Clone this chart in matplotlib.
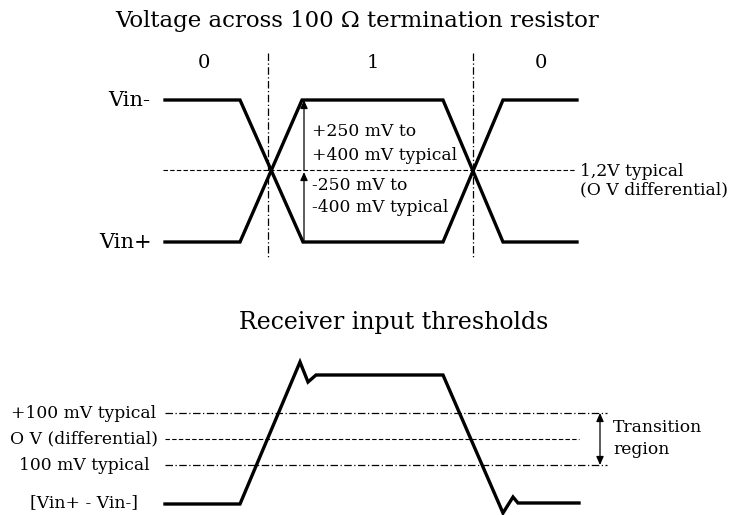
import matplotlib
matplotlib.use('Agg')
import matplotlib.pyplot as plt

# diagram drawn in pixel coordinates of the 733x515 image
W, H = 733, 515

# top: differential pair waveforms
vin_minus_x = [165, 240, 303, 443, 503, 577]
vin_minus_y = [100, 100, 242, 242, 100, 100]
vin_plus_x = [165, 240, 302, 443, 503, 577]
vin_plus_y = [242, 242, 100, 100, 242, 242]
bit_labels = ['0', '1', '0']
bit_x = [204, 373, 541]
bit_edges = [268, 473]
mid_level = 170

# bottom: receiver input
rx_x = [165, 240, 300, 308, 316, 443, 503, 513, 518, 579]
rx_y = [504, 504, 362, 382, 375, 375, 513, 497, 503, 503]
thr_levels = [413, 439, 465]
thr_labels = ['+100 mV typical', 'O V (differential)', '100 mV typical']

plt.rcParams['font.family'] = ['DejaVu Serif']
fig = plt.figure(figsize=(W / 100, H / 100), dpi=100)
ax = fig.add_axes([0, 0, 1, 1])
ax.set_xlim(0, W)
ax.set_ylim(H, 0)
ax.axis('off')

fs = 12.3

# ---- top diagram
ax.text(357, 21, 'Voltage across 100 \u03a9 termination resistor', ha='center', va='center', fontsize=16.5)
for lab, x in zip(bit_labels, bit_x):
    ax.text(x, 63, lab, ha='center', va='center', fontsize=14)
for x in bit_edges:
    ax.plot([x, x], [53, 258], color='black', lw=0.9, ls=(0, (6, 2, 1, 2)))
ax.plot([163, 575], [mid_level, mid_level], color='black', lw=0.8, ls=(0, (4, 2)))
ax.plot(vin_minus_x, vin_minus_y, color='black', lw=2.4, solid_joinstyle='miter')
ax.plot(vin_plus_x, vin_plus_y, color='black', lw=2.4, solid_joinstyle='miter')
ax.text(150, 100, 'Vin-', ha='right', va='center', fontsize=15)
ax.text(152, 242, 'Vin+', ha='right', va='center', fontsize=15)

arr = dict(arrowstyle='-|>,head_length=0.5,head_width=0.22', color='black', lw=0.9, shrinkA=0, shrinkB=0)
ax.annotate('', xy=(304, 100), xytext=(304, 170), arrowprops=arr)
ax.annotate('', xy=(304, 172), xytext=(304, 242), arrowprops=arr)
ax.text(312, 131, '+250 mV to', ha='left', va='center', fontsize=fs)
ax.text(312, 155, '+400 mV typical', ha='left', va='center', fontsize=fs)
ax.text(312, 186, '-250 mV to', ha='left', va='center', fontsize=fs)
ax.text(312, 208, '-400 mV typical', ha='left', va='center', fontsize=fs)
ax.text(580, 172, '1,2V typical', ha='left', va='center', fontsize=fs)
ax.text(580, 190, '(O V differential)', ha='left', va='center', fontsize=fs)

# ---- bottom diagram
ax.text(394, 323, 'Receiver input thresholds', ha='center', va='center', fontsize=17)
for lv, lab in zip(thr_levels, thr_labels):
    if lab.startswith('O V'):
        ax.plot([165, 579], [lv, lv], color='black', lw=0.8, ls=(0, (4, 2)))
    else:
        ax.plot([165, 607], [lv, lv], color='black', lw=0.9, ls=(0, (6, 2, 1, 2)))
    ax.text(84, lv, lab, ha='center', va='center', fontsize=fs)
ax.text(84, 503, '[Vin+ - Vin-]', ha='center', va='center', fontsize=fs)
ax.plot(rx_x, rx_y, color='black', lw=2.4, solid_joinstyle='miter')

arr2 = dict(arrowstyle='<|-|>,head_length=0.5,head_width=0.22', color='black', lw=0.9, shrinkA=0, shrinkB=0)
ax.annotate('', xy=(600, thr_levels[0]), xytext=(600, thr_levels[2]), arrowprops=arr2)
ax.text(613, 427, 'Transition', ha='left', va='center', fontsize=fs)
ax.text(613, 450, 'region', ha='left', va='center', fontsize=fs)

fig.savefig('out.png', dpi=100)
